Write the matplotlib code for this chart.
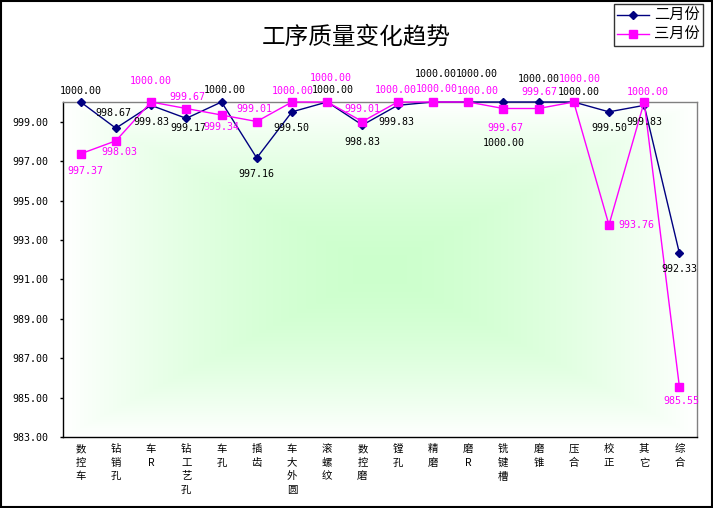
import numpy as np
import matplotlib
matplotlib.use("Agg")
from matplotlib import pyplot as plt
from matplotlib.patches import Rectangle

plt.rcParams['font.family'] = ['Noto Sans CJK SC', 'DejaVu Sans']

# data
categories = ['数控车', '钻销孔', '车R', '钻工艺孔', '车孔', '插齿', '车大外圆', '滚螺纹', '数控磨',
              '镗孔', '精磨', '磨R', '铣键槽', '磨锥', '压合', '校正', '其它', '综合']
feb = [1000.00, 998.67, 999.83, 999.17, 1000.00, 997.16, 999.50, 1000.00, 998.83,
       999.83, 1000.00, 1000.00, 1000.00, 1000.00, 1000.00, 999.50, 999.83, 992.33]
mar = [997.37, 998.03, 1000.00, 999.67, 999.34, 999.01, 1000.00, 1000.00, 999.01,
       1000.00, 1000.00, 1000.00, 999.67, 999.67, 1000.00, 993.76, 1000.00, 985.55]
series_names = ['二月份', '三月份']
title = '工序质量变化趋势'
yticks = np.arange(983, 1000, 2)

# label offsets in pixels (dx, dy), picked to mimic the excel placement
feb_off = [(0, 11), (-2, 15), (0, -17), (2, -10), (3, 12), (0, -16), (-1, -16), (6, 12), (0, -17),
           (-1, -17), (3, 28), (9, 28), (1, -41), (0, 23), (5, 10), (0, -16), (0, -17), (0, -16)]
mar_off = [(5, -17), (4, -11), (0, 21), (1, 12), (0, -12), (-2, 13), (1, 11), (4, 24), (0, 13),
           (-2, 12), (4, 13), (10, 11), (2, -19), (1, 17), (6, 23), (27, 0), (4, 10), (2, -14)]

W, H = 713, 508
fig = plt.figure(figsize=(W / 100, H / 100), dpi=100)
fig.patch.set_facecolor('white')
ax = fig.add_axes([63 / W, 1 - 437 / H, (697 - 63) / W, (437 - 102) / H])

# green gradient from the centre of the plot area
u = np.linspace(-1, 1, 300)
uu, vv = np.meshgrid(u, u)
t = np.clip(np.maximum(np.abs(uu), np.abs(vv)), 0, 1) ** 1.6
green = np.array([0.80, 1.0, 0.80])
img = (1 - t)[..., None] * green + t[..., None] * np.ones(3)
ax.imshow(img, extent=[0, 1, 0, 1], transform=ax.transAxes, aspect='auto', zorder=0,
          interpolation='bilinear')

x = np.arange(len(categories))
ax.plot(x, feb, color='#000080', lw=1, marker='D', ms=4.5, label=series_names[0], zorder=3,
        clip_on=False)
ax.plot(x, mar, color='#ff00ff', lw=1, marker='s', ms=5.5, label=series_names[1], zorder=3,
        clip_on=False)

for xi, v, (dx, dy) in zip(x, feb, feb_off):
    ax.annotate('%.2f' % v, (xi, v), xytext=(dx * 0.72, dy * 0.72), textcoords='offset points',
                ha='center', va='center', fontsize=7.2, family='DejaVu Sans Mono', color='black',
                zorder=4, annotation_clip=False)
for xi, v, (dx, dy) in zip(x, mar, mar_off):
    ax.annotate('%.2f' % v, (xi, v), xytext=(dx * 0.72, dy * 0.72), textcoords='offset points',
                ha='center', va='center', fontsize=7.2, family='DejaVu Sans Mono', color='#ff00ff',
                zorder=4, annotation_clip=False)

ax.set_xlim(-0.5, len(categories) - 0.5)
ax.set_ylim(983, 1000)
ax.set_yticks(yticks)
ax.set_yticklabels(['%.2f' % v for v in yticks], family='DejaVu Sans Mono', fontsize=7.2)
ax.set_xticks(x)
ax.set_xticklabels(['\n'.join(c) for c in categories], fontsize=7.5, linespacing=1.45, va='top')
ax.tick_params(axis='y', length=2.2, width=1, pad=8.5)
ax.tick_params(axis='x', length=0, pad=5)

for s in ['left', 'bottom']:
    ax.spines[s].set_color('black')
    ax.spines[s].set_linewidth(1)
for s in ['top', 'right']:
    ax.spines[s].set_color('#808080')
    ax.spines[s].set_linewidth(1)

fig.text(356 / W, 1 - 37 / H, title, ha='center', va='center', fontsize=17)

leg = ax.legend(loc='upper left', bbox_to_anchor=(614 / W, 1 - 4 / H), bbox_transform=fig.transFigure,
                fontsize=11, frameon=True, fancybox=False, borderpad=0.2, handlelength=2.1,
                handletextpad=0.3, labelspacing=0.15, borderaxespad=0)
leg.get_frame().set_edgecolor('black')
leg.get_frame().set_linewidth(1)

fig.patches.append(Rectangle((0.001, 0.001), 0.997, 0.997, transform=fig.transFigure,
                             fill=False, edgecolor='black', lw=1.5))

fig.savefig('out.png', dpi=100)
